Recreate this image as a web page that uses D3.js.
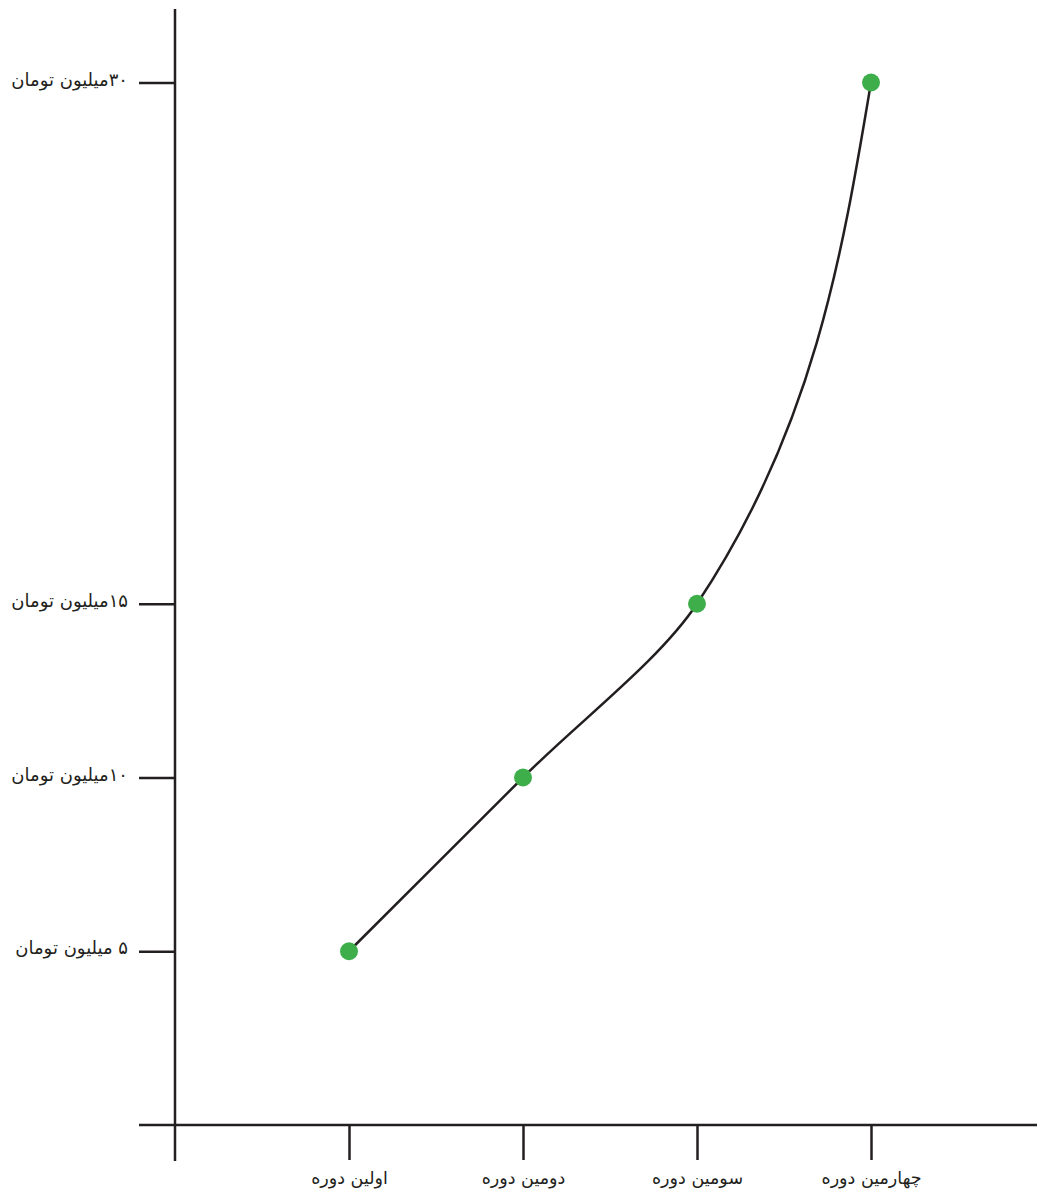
<!DOCTYPE html>
<html>
<head>
<meta charset="utf-8" />
<title>Salary by period</title>
<script src="https://cdn.jsdelivr.net/npm/d3@7"></script>
<style>
body { margin: 0; background: white; }
svg { display: block; background: white; }
.axis text { font-family: 'DejaVu Sans', sans-serif; fill: #231f20; }
.y.axis text { font-size: 18px; }
.x.axis text { font-size: 17.5px; }
.axis line, .axis-line { stroke: #231f20; stroke-width: 2.5px; }
.curve { fill: none; stroke: #231f20; stroke-width: 2.5px; }
.dot { fill: #3dae49; }
</style>
</head>
<body>
<div id="chart"></div>
<script>
// data
var periods = [1, 2, 3, 4];
var periodLabels = ["اولین دوره", "دومین دوره", "سومین دوره", "چهارمین دوره"];
var salaries = [5, 10, 15, 30];
var yTicks = [5, 10, 15, 30];
var yTickLabels = ["۵ میلیون تومان", "۱۰میلیون تومان", "۱۵میلیون تومان", "۳۰میلیون تومان"];

var width = 1037, height = 1189;

var x = d3.scaleLinear().domain([0, 4]).range([175, 871]);
var y = d3.scaleLinear().domain([0, 30]).range([1125, 82.5]);

var svg = d3.select("#chart").append("svg")
    .attr("width", width)
    .attr("height", height);

// axis lines run past the scale range
svg.append("line").attr("class", "axis-line")
    .attr("x1", x(0)).attr("x2", x(0))
    .attr("y1", 9).attr("y2", 1161);
svg.append("line").attr("class", "axis-line")
    .attr("x1", 139).attr("x2", width)
    .attr("y1", y(0)).attr("y2", y(0));

var yAxis = d3.axisLeft(y)
    .tickValues(yTicks)
    .tickSize(36)
    .tickPadding(11)
    .tickFormat(function(d, i) { return yTickLabels[i]; });

var gy = svg.append("g").attr("class", "y axis")
    .attr("transform", "translate(" + x(0) + ",0)")
    .call(yAxis);
gy.select(".domain").remove();
gy.selectAll("text")
    .attr("direction", "rtl")
    .attr("text-anchor", "start")
    .attr("dy", "0.15em");

var xAxis = d3.axisBottom(x)
    .tickValues(periods)
    .tickSize(35)
    .tickPadding(12)
    .tickFormat(function(d, i) { return periodLabels[i]; });

var gx = svg.append("g").attr("class", "x axis")
    .attr("transform", "translate(0," + y(0) + ")")
    .call(xAxis);
gx.select(".domain").remove();
gx.selectAll("text").attr("direction", "rtl");

var line = d3.line()
    .x(function(d, i) { return x(periods[i]); })
    .y(function(d) { return y(d); })
    .curve(d3.curveMonotoneY);

svg.append("path")
    .datum(salaries)
    .attr("class", "curve")
    .attr("d", line);

svg.selectAll(".dot")
    .data(salaries)
    .enter().append("circle")
    .attr("class", "dot")
    .attr("cx", function(d, i) { return x(periods[i]); })
    .attr("cy", function(d) { return y(d); })
    .attr("r", 9);
</script>
</body>
</html>
